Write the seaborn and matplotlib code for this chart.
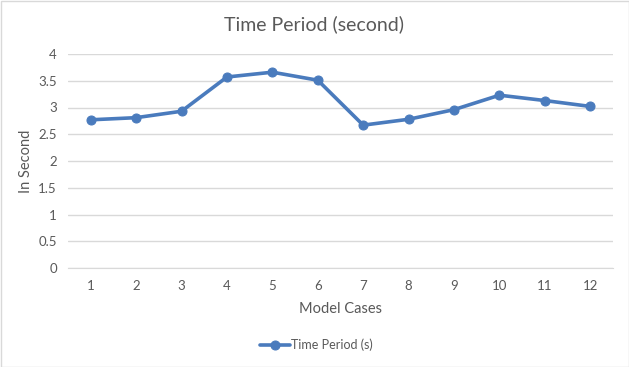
import matplotlib
matplotlib.use("Agg")
import matplotlib.pyplot as plt
import seaborn as sns
import pandas as pd

cases = [1, 2, 3, 4, 5, 6, 7, 8, 9, 10, 11, 12]
time_period = [2.77, 2.81, 2.93, 3.57, 3.66, 3.51, 2.67, 2.78, 2.96, 3.23, 3.13, 3.02]
yticks = [0, 0.5, 1, 1.5, 2, 2.5, 3, 3.5, 4]
ytick_labels = ["0", "0.5", "1", "1.5", "2", "2.5", "3", "3.5", "4"]
series_name = "Time Period (s)"

sns.set_style("white")
plt.rcParams['font.family'] = ['Lato', 'DejaVu Sans']

df = pd.DataFrame({"case": cases, "value": time_period, "series": series_name})

fig = plt.figure(figsize=(6.29, 3.67), dpi=100)
ax = fig.add_axes([68/629, 1-268/367, (613-68)/629, (268-54)/367])

color = "#4a7bbd"
sns.lineplot(data=df, x="case", y="value", hue="series", palette=[color],
             marker="o", markersize=6.5, markeredgecolor=color, linewidth=2.6, ax=ax)

ax.set_xlim(0.5, 12.5)
ax.set_ylim(0, 4)
ax.set_xticks(cases)
ax.set_xticklabels([str(c) for c in cases])
ax.set_yticks(yticks)
ax.set_yticklabels(ytick_labels)
ax.grid(axis="y", color="#d9d9d9", linewidth=1)
ax.set_axisbelow(True)
for s in ["top", "right", "left"]:
    ax.spines[s].set_visible(False)
ax.spines["bottom"].set_color("#d9d9d9")
ax.tick_params(axis="both", length=0, colors="#595959", labelsize=9.5)
ax.tick_params(axis="x", pad=9)
ax.tick_params(axis="y", pad=8)

ax.set_xlabel("Model Cases", fontsize=10.5, color="#595959")
ax.set_ylabel("In Second", fontsize=10.5, color="#595959")
ax.xaxis.set_label_coords(0.5, -(302 - 268) / 214)
ax.yaxis.set_label_coords((33 - 68) / 545, 0.5)
fig.text(0.5, 1-24/367, "Time Period (second)", ha="center", va="center",
         fontsize=14, color="#595959")

ax.legend(loc="center", bbox_to_anchor=((316 - 68) / 545, -(345 - 268) / 214),
          frameon=False, fontsize=9, handlelength=2.4, handletextpad=0.1,
          labelcolor="#595959")

border = plt.Rectangle((0.5/629, 0.5/367), 1-1/629, 1-1/367, transform=fig.transFigure,
                       fill=False, edgecolor="#d9d9d9", linewidth=1)
fig.add_artist(border)

fig.savefig("out.png", dpi=100)
